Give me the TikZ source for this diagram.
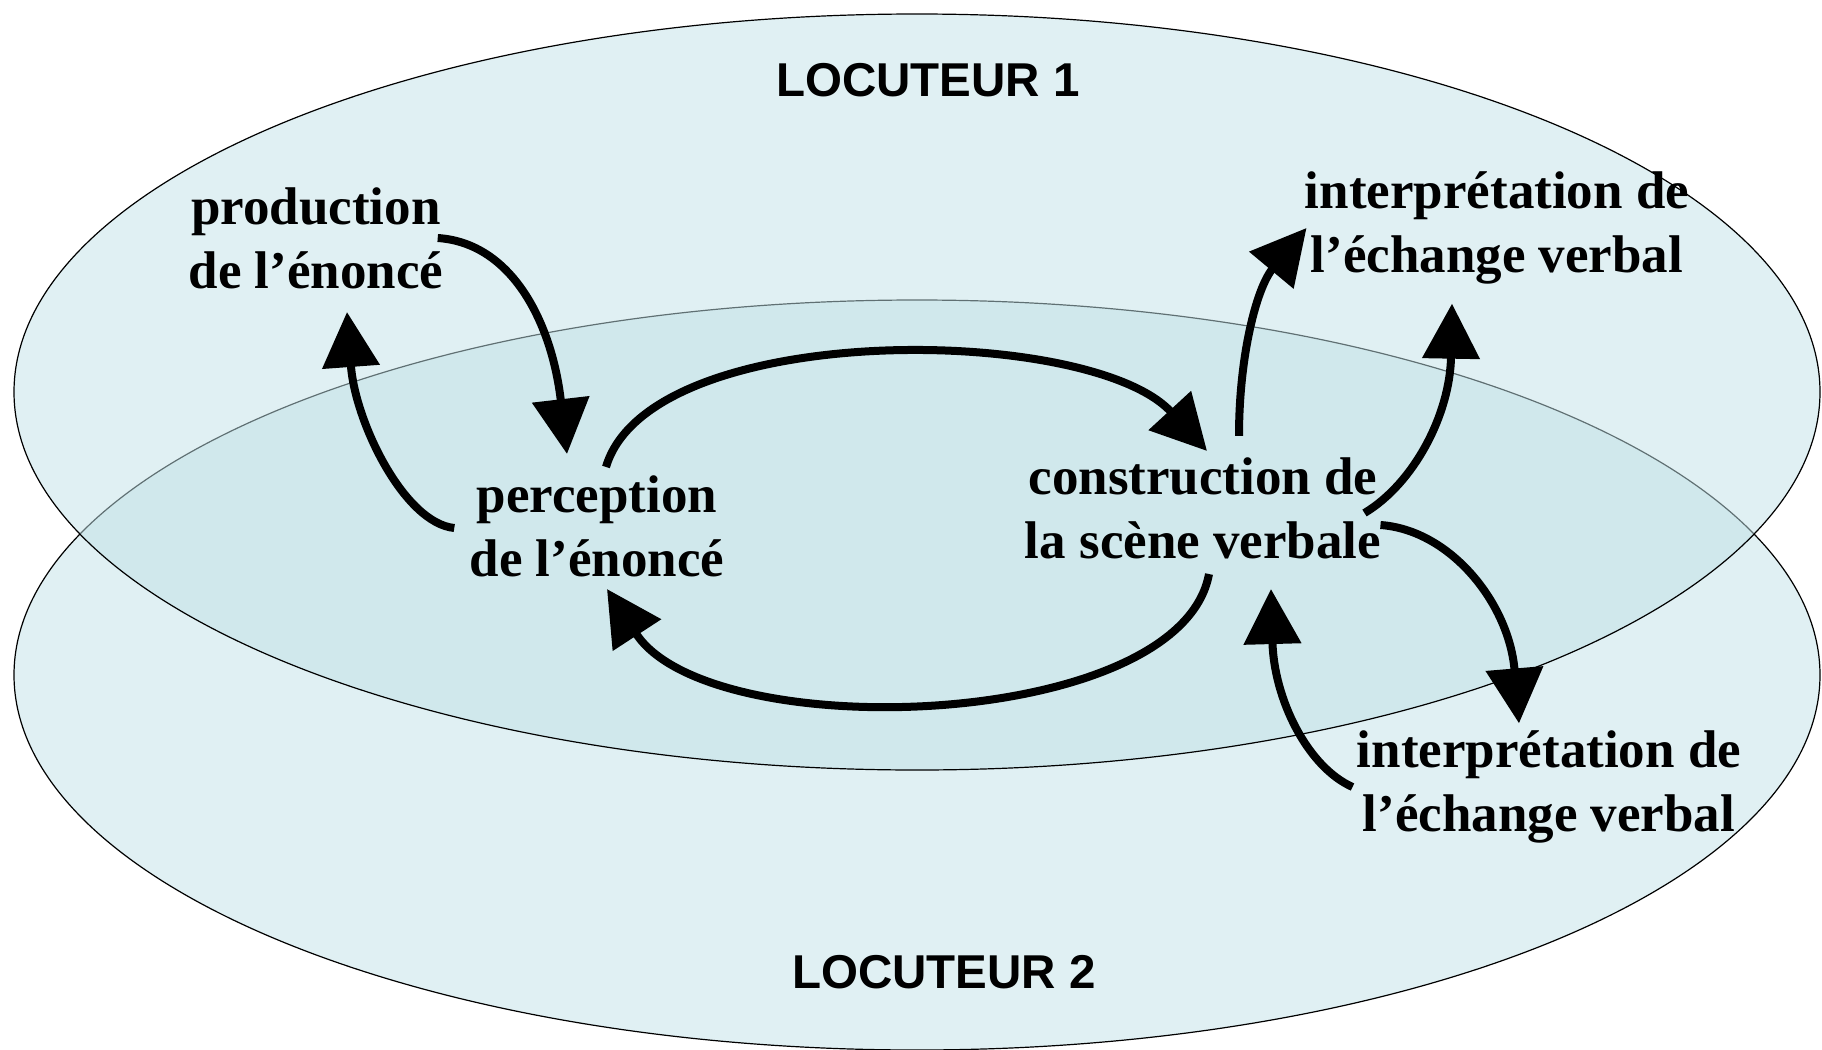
\documentclass[tikz,border=0pt]{standalone}
\usepackage{fontspec}
\setmainfont{Liberation Serif}
\newfontfamily\locfont{Liberation Sans}
\usepackage{tikz}
\usetikzlibrary{arrows.meta}

\definecolor{bleuclair}{RGB}{224,240,243}
\definecolor{bleuvoile}{RGB}{193,225,231}

\begin{document}
\begin{tikzpicture}[x=0.5pt,y=-0.5pt,
    etape/.style={font=\fontsize{26.5}{32}\selectfont\bfseries, align=center, inner sep=0pt},
    locuteur/.style={font=\locfont\fontsize{23.75}{28}\selectfont\bfseries, inner sep=0pt},
    fleche/.style={line width=4pt, -{Triangle[length=27.5pt,width=28pt]}}]

\useasboundingbox (0,0) rectangle (1822,1050);

\filldraw [fill=bleuclair, draw=black, line width=0.6pt] (917,675) ellipse [x radius=903, y radius=375];
\filldraw [fill=bleuvoile, fill opacity=0.5, draw=black, line width=0.6pt] (917,392) ellipse [x radius=903, y radius=378];

\node [locuteur] (loc1) at (928,80.5) {LOCUTEUR 1};
\node [locuteur] (loc2) at (944,972.5) {LOCUTEUR 2};

\node [etape] (prod) at (316,238) {production\\de l’énoncé};
\node [etape] (perc) at (597,526) {perception\\de l’énoncé};
\node [etape] (cons) at (1203,508) {construction de\\la scène verbale};
\node [etape] (intA) at (1497,228) {interprétation de\\l’échange verbal};
\node [etape] (intB) at (1549,787) {interprétation de\\l’échange verbal};

\draw [fleche] ([shift={(-6,0)}]prod.east) .. controls +(75,5) and +(-15,-130) .. ([shift={(-30,-21)}]perc.north);
\draw [fleche] ([shift={(-15,2)}]perc.west) .. controls +(-50,-5) and +(8,110) .. ([shift={(31,23)}]prod.south);
\draw [fleche] ([shift={(9,-8)}]perc.north) .. controls +(44,-148) and +(-117,-127) .. ([shift={(4,-6)}]cons.north);
\draw [fleche] ([shift={(6,15)}]cons.south) .. controls +(-29,157) and +(103,158) .. ([shift={(10,12)}]perc.south);
\draw [fleche] ([shift={(36,-21)}]cons.north) .. controls +(0,-80) and +(-50,60) .. ([shift={(2,0)}]intA.west);
\draw [fleche] ([shift={(-17,5)}]cons.east) .. controls +(50,-30) and +(-2,110) .. ([shift={(-45,19)}]intA.south);
\draw [fleche] ([shift={(-1,17)}]cons.east) .. controls +(70,5) and +(-10,-120) .. ([shift={(-30,-7)}]intB.north);
\draw [fleche] ([shift={(-4,0)}]intB.west) .. controls +(-45,-20) and +(3,110) .. ([shift={(68,30)}]cons.south);

\end{tikzpicture}
\end{document}
